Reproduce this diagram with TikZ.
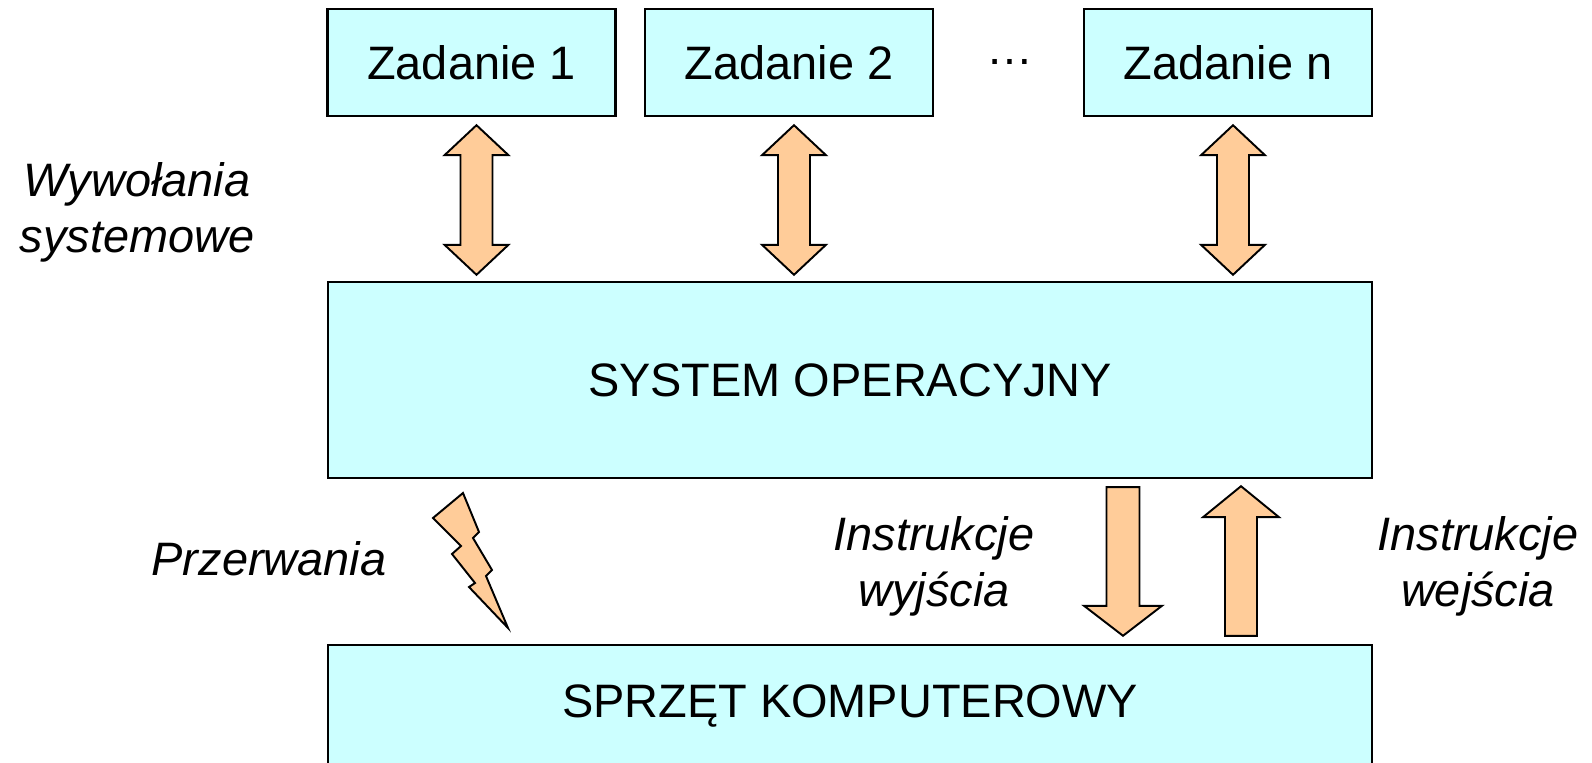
\documentclass[tikz,border=0pt]{standalone}
\usepackage{fontspec}
\setmainfont{Liberation Sans}
\usetikzlibrary{calc}
\definecolor{boxCyan}{HTML}{CCFFFF}
\definecolor{arrOrange}{HTML}{FFCC99}

\begin{document}
\begin{tikzpicture}[x=0.02cm, y=-0.02cm,
      every node/.style={font=\fontsize{26.7}{31.9}\selectfont},
      bx/.style={draw, line width=1.4pt, fill=boxCyan, inner sep=0pt},
      blk/.style={draw, line width=1.1pt, fill=arrOrange, line join=miter},
      lbl/.style={font=\fontsize{26.7}{31.9}\selectfont\itshape, align=center}]
    \useasboundingbox (0,0) rectangle (1592,763);
    % tasks
    \node[bx, minimum width=5.76cm, minimum height=2.14cm] (z1) at (471.5,62.5) {Zadanie 1};
    \node[bx, minimum width=5.76cm, minimum height=2.14cm] (z2) at (789,62.5)   {Zadanie 2};
    \node[bx, minimum width=5.76cm, minimum height=2.14cm] (zn) at (1228,62.5)  {Zadanie n};
    \node[anchor=base] (dots) at (1010,65) {…};
    % operating system and hardware
    \node[bx, minimum width=20.88cm, minimum height=3.92cm] (sys) at (850,380)  {SYSTEM OPERACYJNY};
    \node[bx, minimum width=20.88cm, minimum height=2.46cm] (hw)  at (850,706.5) {SPRZĘT KOMPUTEROWY};
    % system calls
    \foreach \task in {z1,z2,zn} {
      \coordinate (\task a) at ($(\task.south)+(5,8)$);
      \coordinate (\task b) at ($(\task a |- sys.north)+(0,-6)$);
      \draw[blk] (\task a) -- ++(32,30) -- ++(-16,0) -- ($(\task b)+(16,-30)$) -- ++(16,0)
        -- (\task b) -- ++(-32,-30) -- ++(16,0) -- ($(\task a)+(-16,30)$) -- ++(-16,0) -- cycle;
    }
    \node[lbl] (calls) at (137,212) {Wywołania\\systemowe};
    % output instructions
    \coordinate (outa) at ($(sys.south)+(273,8)$);
    \coordinate (outb) at ($(outa |- hw.north)+(0,-8)$);
    \draw[blk] (outa) -- ++(16.5,0) -- ($(outb)+(16.5,-30)$) -- ++(22.5,0) -- (outb)
      -- ++(-39,-30) -- ++(22.5,0) -- ($(outa)+(-16.5,0)$) -- cycle;
    \node[lbl] (outl) at (934,566) {Instrukcje\\wyjścia};
    % input instructions
    \coordinate (inb) at ($(hw.north)+(391,-8)$);
    \coordinate (ina) at ($(inb |- sys.south)+(0,7)$);
    \draw[blk] (inb) -- ++(16,0) -- ($(ina)+(16,31)$) -- ++(22,0) -- (ina)
      -- ++(-38,31) -- ++(22,0) -- ($(inb)+(-16,0)$) -- cycle;
    \node[lbl] (inl) at (1478,566) {Instrukcje\\wejścia};
    % interrupts
    \draw[blk] (463,493) -- (433,518) -- (461,546) -- (452,554) -- (475,583) -- (469,587)
      -- (508,628) -- (486,576) -- (492,570) -- (473,538) -- (479,532) -- cycle;
    \node[lbl, anchor=base] (irq) at (269,575) {Przerwania};
  \end{tikzpicture}
\end{document}
